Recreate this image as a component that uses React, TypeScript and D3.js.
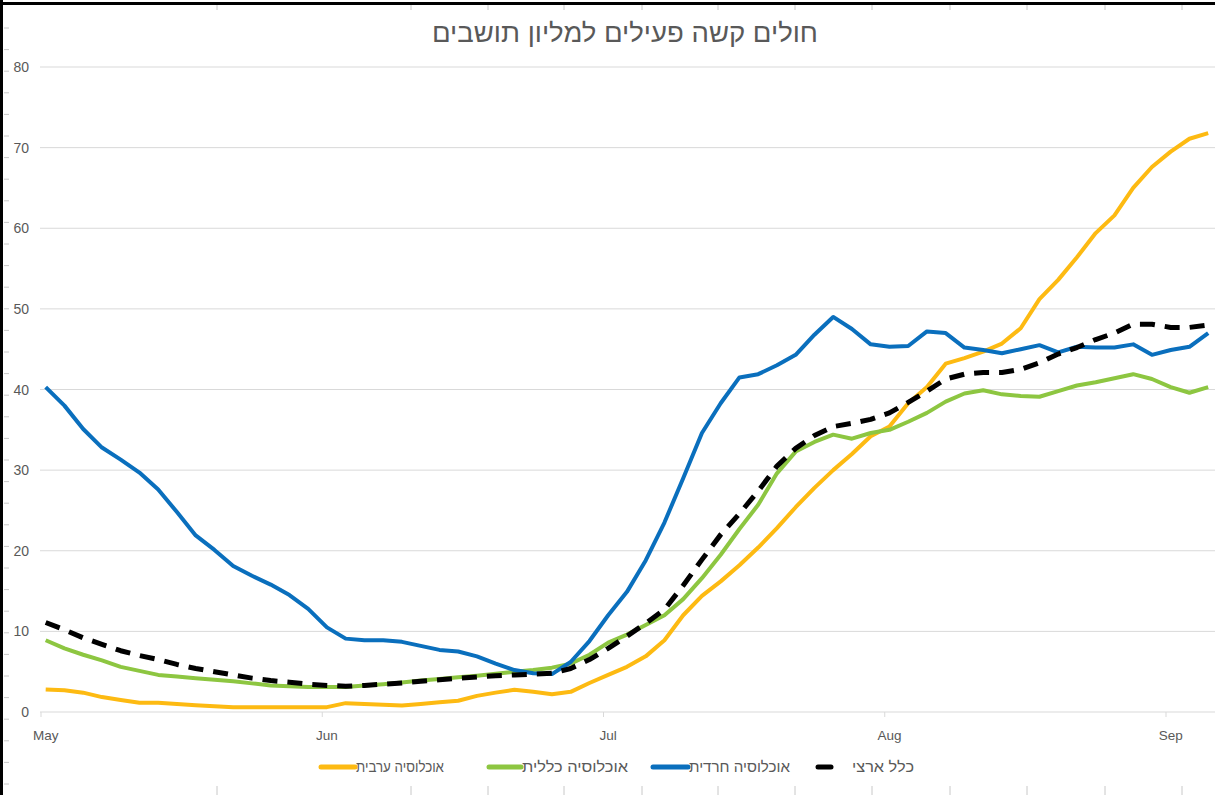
import React from "react";
import * as d3 from "d3";

// ---- data (every 2nd day from May 1) ----
const DAY_STEP = 2;
const haredi = [40.3, 38.0, 35.1, 32.8, 31.3, 29.7, 27.6, 24.8, 21.9, 20.1, 18.1, 16.9, 15.8, 14.5, 12.8, 10.5,
  9.1, 8.9, 8.9, 8.7, 8.2, 7.7, 7.5, 6.9, 6.0, 5.2, 4.8, 4.7, 6.2, 8.8, 12.0,
  14.9, 18.8, 23.5, 29.0, 34.6, 38.3, 41.5, 41.9, 43.0, 44.3, 46.8, 49.0, 47.5, 45.6, 45.3,
  45.4, 47.2, 47.0, 45.2, 44.9, 44.5, 45.0, 45.5, 44.6, 45.3, 45.2, 45.2, 45.6, 44.3, 44.9,
  45.3, 47.0];
const national = [11.1, 10.2, 9.2, 8.4, 7.6, 7.0, 6.5, 5.9, 5.4, 5.0, 4.6, 4.2, 3.9, 3.7, 3.45, 3.3,
  3.2, 3.3, 3.45, 3.6, 3.8, 4.0, 4.2, 4.35, 4.5, 4.6, 4.7, 4.8, 5.4, 6.5, 7.9,
  9.4, 11.0, 12.7, 15.7, 18.9, 22.0, 24.6, 27.4, 30.5, 32.7, 34.3, 35.4, 35.8, 36.3, 37.1,
  38.4, 39.8, 41.3, 41.9, 42.1, 42.1, 42.5, 43.3, 44.4, 45.2, 46.2, 47.0, 48.1, 48.1, 47.7,
  47.7, 48.0];
const general = [8.9, 7.9, 7.1, 6.4, 5.6, 5.1, 4.6, 4.4, 4.2, 4.0, 3.8, 3.55, 3.3, 3.2, 3.1, 3.1,
  3.1, 3.3, 3.45, 3.65, 3.9, 4.1, 4.3, 4.5, 4.75, 5.0, 5.2, 5.5, 6.0, 7.1, 8.6,
  9.6, 10.8, 12.0, 14.0, 16.6, 19.5, 22.7, 25.7, 29.6, 32.3, 33.5, 34.4, 33.9, 34.6, 35.0,
  36.0, 37.1, 38.5, 39.5, 39.9, 39.4, 39.2, 39.1, 39.8, 40.5, 40.9, 41.4, 41.9, 41.3, 40.3,
  39.6, 40.3];
const arab = [2.8, 2.7, 2.4, 1.85, 1.5, 1.15, 1.15, 1.0, 0.85, 0.7, 0.6, 0.6, 0.6, 0.6, 0.6, 0.6,
  1.1, 1.0, 0.9, 0.8, 1.0, 1.2, 1.4, 2.0, 2.4, 2.75, 2.5, 2.2, 2.5, 3.6, 4.6,
  5.6, 6.9, 8.9, 12.0, 14.4, 16.2, 18.2, 20.4, 22.8, 25.4, 27.8, 30.0, 32.0, 34.2, 35.4,
  38.3, 40.3, 43.2, 43.9, 44.7, 45.7, 47.6, 51.2, 53.6, 56.4, 59.4, 61.6, 65.0, 67.6, 69.5,
  71.1, 71.8];

const monthLabels = ["May", "Jun", "Jul", "Aug", "Sep"];
const monthDayIndex = [0, 30, 60, 90, 120];
const yTicks = [0, 10, 20, 30, 40, 50, 60, 70, 80];

const TITLE = "חולים קשה פעילים למליון תושבים";

const series = [
  { name: "אוכלוסיה ערבית", values: arab, color: "#FDBA12", dash: null, width: 4 },
  { name: "אוכלוסיה כללית", values: general, color: "#8DC641", dash: null, width: 4 },
  { name: "אוכלוסיה חרדית", values: haredi, color: "#0A6FBD", dash: null, width: 4 },
  { name: "כלל ארצי", values: national, color: "#000000", dash: "15 10", width: 5 },
];

const W = 1215;
const H = 795;

export default function App() {
  // category (day) axis: each day occupies one slot, points sit at slot centres
  const x = d3.scaleLinear().domain([0, 120]).range([41, 1166]);
  const y = d3.scaleLinear().domain([0, 80]).range([712, 67]);
  const line = d3
    .line<number>()
    .x((_, i) => x(i * DAY_STEP + 0.5))
    .y((d) => y(d));

  const font = "'Liberation Sans', 'DejaVu Sans', sans-serif";
  const grey = "#595959";

  const legendItems = [
    { s0: 321, s1: 355, t0: 356, tw: 88 },
    { s0: 489, s1: 521, t0: 522, tw: 106 },
    { s0: 653, s1: 688, t0: 689, tw: 101 },
    { s0: 818, s1: 831, t0: 852, tw: 62 },
  ];
  const legendY = 767;

  return (
    <svg
      width={W}
      height={H}
      style={{ position: "absolute", left: 0, top: 0, background: "#fff" }}
      fontFamily={font}
    >
      <rect x={0} y={0} width={W} height={H} fill="#fff" />
      {/* spreadsheet cell borders peeking around the chart */}
      {d3.range(28, 795, 21.6).map((yy, i) => (
        <line key={"lr" + i} x1={4} x2={9} y1={yy} y2={yy} stroke="#c8c8c8" strokeWidth={1} />
      ))}
      {[217, 411, 488, 564, 642, 718, 795, 872, 950, 1027, 1105, 1182].map((xx, i) => (
        <g key={"tc" + i}>
          <line x1={xx} x2={xx} y1={5} y2={10} stroke="#c8c8c8" strokeWidth={1} />
          <line x1={xx} x2={xx} y1={786} y2={795} stroke="#c8c8c8" strokeWidth={1} />
        </g>
      ))}
      {/* frame */}
      <line x1={0} x2={W} y1={3.5} y2={3.5} stroke="#000" strokeWidth={3} />
      <line x1={1.5} x2={1.5} y1={0} y2={H} stroke="#000" strokeWidth={3} />

      {/* title */}
      <text
        x={625}
        y={42}
        textAnchor="middle"
        fontSize={26}
        fill={grey}
        textLength={386}
        lengthAdjust="spacingAndGlyphs"
      >
        {TITLE}
      </text>

      {/* gridlines + y labels */}
      {yTicks.map((t) => (
        <g key={"g" + t}>
          <line x1={40} x2={W} y1={y(t)} y2={y(t)} stroke="#D9D9D9" strokeWidth={1} />
          <text x={29} y={y(t) + 5} textAnchor="end" fontSize={14} fill={grey}>
            {t}
          </text>
        </g>
      ))}

      {/* x axis ticks & labels */}
      {monthDayIndex.map((d, i) => (
        <g key={"m" + i}>
          <line x1={x(d)} x2={x(d)} y1={712} y2={717} stroke="#D9D9D9" strokeWidth={1} />
          <text x={x(d + 0.5)} y={740} textAnchor="middle" fontSize={13.5} fill={grey}>
            {monthLabels[i]}
          </text>
        </g>
      ))}

      {/* series */}
      {series.map((s) => (
        <path
          key={s.name}
          d={line(s.values) || ""}
          fill="none"
          stroke={s.color}
          strokeWidth={s.width}
          strokeDasharray={s.dash || undefined}
          strokeLinejoin="round"
        />
      ))}

      {/* legend */}
      {series.map((s, i) => {
        const L = legendItems[i];
        return (
          <g key={"l" + i}>
            <line
              x1={L.s0}
              x2={L.s1}
              y1={legendY}
              y2={legendY}
              stroke={s.color}
              strokeWidth={5}
              strokeLinecap="round"
            />
            <text
              x={L.t0}
              y={legendY + 5}
              fontSize={15}
              fill={grey}
              textLength={L.tw}
              lengthAdjust="spacingAndGlyphs"
            >
              {s.name}
            </text>
          </g>
        );
      })}
    </svg>
  );
}
